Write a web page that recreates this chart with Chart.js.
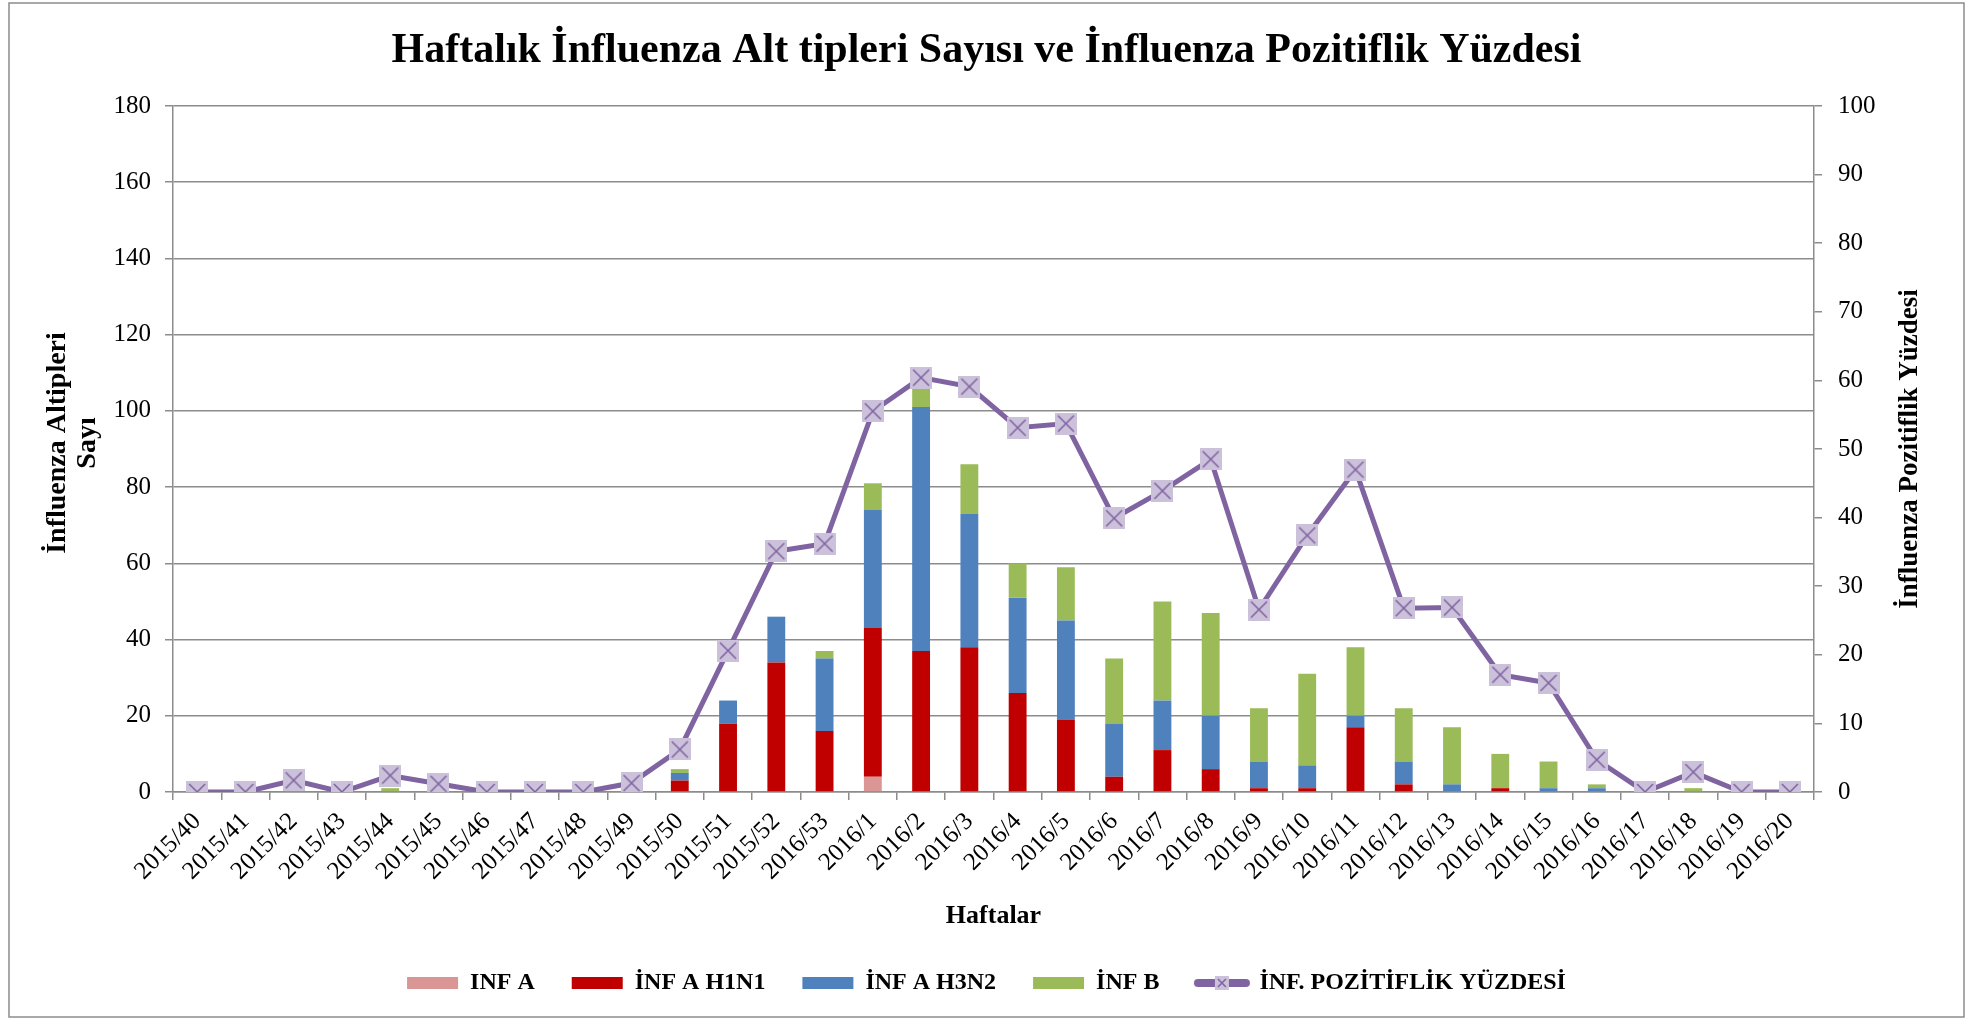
<!DOCTYPE html>
<html lang="tr">
<head>
  <meta charset="UTF-8">
  <title>Haftalık İnfluenza Alt tipleri Sayısı ve İnfluenza Pozitiflik Yüzdesi</title>
  <script src="https://cdn.jsdelivr.net/npm/chart.js"></script>
  <style>
    body {
      margin: 0;
      background: #ffffff;
    }
    canvas {
      display: block;
    }
  </style>
</head>
<body>
  <canvas id="fluChart" width="1973" height="1020"></canvas>

  <script>
    const weeks = [
      '2015/40', '2015/41', '2015/42', '2015/43', '2015/44', '2015/45', '2015/46',
      '2015/47', '2015/48', '2015/49', '2015/50', '2015/51', '2015/52', '2016/53',
      '2016/1', '2016/2', '2016/3', '2016/4', '2016/5', '2016/6', '2016/7',
      '2016/8', '2016/9', '2016/10', '2016/11', '2016/12', '2016/13', '2016/14',
      '2016/15', '2016/16', '2016/17', '2016/18', '2016/19', '2016/20'
    ];

    const infA     = [0, 0, 0, 0, 0, 0, 0, 0, 0, 0, 0, 0, 0, 0, 4, 0, 0, 0, 0, 0, 0, 0, 0, 0, 0, 0, 0, 0, 0, 0, 0, 0, 0, 0];
    const infAH1N1 = [0, 0, 0, 0, 0, 0, 0, 0, 0, 0, 3, 18, 34, 16, 39, 37, 38, 26, 19, 4, 11, 6, 1, 1, 17, 2, 0, 1, 0, 0, 0, 0, 0, 0];
    const infAH3N2 = [0, 0, 0, 0, 0, 0, 0, 0, 0, 0, 2, 6, 12, 19, 31, 64, 35, 25, 26, 14, 13, 14, 7, 6, 3, 6, 2, 0, 1, 1, 0, 0, 0, 0];
    const infB     = [0, 0, 1, 0, 1, 0, 0, 0, 0, 0, 1, 0, 0, 2, 7, 5, 13, 9, 14, 17, 26, 27, 14, 24, 18, 14, 15, 9, 7, 1, 0, 1, 0, 0];
    const pozitiflik = [0, 0, 1.7, 0, 2.4, 1.2, 0, 0, 0, 1.3, 6.2, 20.6, 35.1, 36.2,
      55.5, 60.4, 59.1, 53.1, 53.7, 39.9, 43.9, 48.5, 26.6, 37.4, 47.0, 26.8,
      26.9, 17.1, 15.9, 4.7, 0, 2.9, 0, 0];

    const leftTicks = { min: 0, max: 180, step: 20 };
    const rightTicks = { min: 0, max: 100, step: 10 };

    const serif = '"Liberation Serif", "Times New Roman", serif';
    const gridGray = '#8c8c8c';

    // square marker with a cross, like the Excel one
    function makeMarker(size) {
      const c = document.createElement('canvas');
      c.width = size;
      c.height = size;
      const g = c.getContext('2d');
      g.fillStyle = '#CCC1DA';
      g.fillRect(0, 0, size, size);
      g.strokeStyle = '#8064A2';
      g.lineWidth = 1.6;
      g.beginPath();
      g.moveTo(3, 3); g.lineTo(size - 3, size - 3);
      g.moveTo(size - 3, 3); g.lineTo(3, size - 3);
      g.stroke();
      return c;
    }

    function makeLineIcon() {
      const c = document.createElement('canvas');
      c.width = 58;
      c.height = 20;
      const g = c.getContext('2d');
      g.strokeStyle = '#8064A2';
      g.lineWidth = 8;
      g.lineCap = 'round';
      g.beginPath();
      g.moveTo(5, 10); g.lineTo(53, 10);
      g.stroke();
      g.drawImage(makeMarker(14), 22, 3);
      return c;
    }

    const marker = makeMarker(22);
    const lineIcon = makeLineIcon();

    const frame = {
      id: 'frame',
      beforeDraw(chart) {
        const ctx = chart.ctx;
        ctx.save();
        ctx.fillStyle = '#ffffff';
        ctx.fillRect(0, 0, chart.width, chart.height);
        ctx.strokeStyle = gridGray;
        ctx.lineWidth = 1.5;
        ctx.strokeRect(9, 3, chart.width - 18, chart.height - 6);
        ctx.restore();
      }
    };

    // y axis titles, both read bottom to top
    const axisTitles = {
      id: 'axisTitles',
      afterDraw(chart) {
        const { ctx, chartArea } = chart;
        const mid = (chartArea.top + chartArea.bottom) / 2;
        ctx.save();
        ctx.font = 'bold 27px ' + serif;
        ctx.fillStyle = '#000';
        ctx.textAlign = 'center';
        ctx.textBaseline = 'middle';

        ctx.save();
        ctx.translate(chartArea.left - 115, mid - 6);
        ctx.rotate(-Math.PI / 2);
        ctx.font = 'bold 28px ' + serif;
        ctx.fillText('İnfluenza Altipleri', 0, 0);
        ctx.fillText('Sayı', 0, 30);
        ctx.restore();

        ctx.save();
        ctx.translate(chartArea.right + 96, mid);
        ctx.rotate(-Math.PI / 2);
        ctx.fillText('İnfluenza Pozitiflik Yüzdesi', 0, 0);
        ctx.restore();

        ctx.restore();
      }
    };

    const ctx = document.getElementById('fluChart').getContext('2d');

    new Chart(ctx, {
      type: 'bar',
      data: {
        labels: weeks,
        datasets: [
          { label: 'INF A', data: infA, backgroundColor: '#D99694', order: 1 },
          { label: 'İNF A H1N1', data: infAH1N1, backgroundColor: '#C00000', order: 1 },
          { label: 'İNF A H3N2', data: infAH3N2, backgroundColor: '#4F81BD', order: 1 },
          { label: 'İNF B', data: infB, backgroundColor: '#9BBB59', order: 1 },
          {
            type: 'line',
            label: 'İNF. POZİTİFLİK YÜZDESİ',
            data: pozitiflik,
            yAxisID: 'y1',
            borderColor: '#8064A2',
            backgroundColor: '#8064A2',
            borderWidth: 5,
            pointStyle: marker,
            tension: 0,
            order: 0
          }
        ]
      },
      options: {
        responsive: false,
        animation: false,
        events: [],
        layout: { padding: { top: 0, bottom: 15, left: 0, right: 0 } },
        datasets: {
          bar: { categoryPercentage: 1, barPercentage: 0.37, borderWidth: 0 }
        },
        plugins: {
          title: {
            display: true,
            text: 'Haftalık İnfluenza Alt tipleri Sayısı ve İnfluenza Pozitiflik Yüzdesi',
            color: '#000',
            font: { family: serif, size: 42, weight: 'bold' },
            padding: { top: 26, bottom: 29.6 }
          },
          legend: {
            position: 'bottom',
            labels: {
              usePointStyle: true,
              pointStyleWidth: 51,
              boxHeight: 12,
              padding: 37,
              color: '#000',
              font: { family: serif, size: 24, weight: 'bold' },
              generateLabels(chart) {
                return chart.data.datasets.map((ds, i) => ({
                  text: ds.label,
                  fillStyle: ds.backgroundColor,
                  strokeStyle: ds.backgroundColor,
                  lineWidth: 0,
                  pointStyle: ds.type === 'line' ? lineIcon : 'rect',
                  datasetIndex: i,
                  hidden: false
                }));
              }
            }
          },
          tooltip: { enabled: false }
        },
        scales: {
          x: {
            stacked: true,
            afterFit(scale) { scale.height = 142; },
            grid: { drawOnChartArea: false, drawTicks: true, tickLength: 8, color: gridGray, lineWidth: 1.5 },
            border: { color: gridGray, width: 1.5 },
            ticks: {
              autoSkip: false,
              maxRotation: 45,
              minRotation: 45,
              padding: 7,
              color: '#000',
              font: { family: serif, size: 25 }
            },
            title: {
              display: true,
              text: 'Haftalar',
              color: '#000',
              font: { family: serif, size: 26, weight: 'bold' },
              padding: { top: 0, bottom: 2 }
            }
          },
          y: {
            stacked: true,
            min: leftTicks.min,
            max: leftTicks.max,
            afterFit(scale) { scale.width = 173; },
            grid: { color: gridGray, lineWidth: 1.5, tickLength: 8 },
            border: { color: gridGray, width: 1.5 },
            ticks: {
              stepSize: leftTicks.step,
              padding: 14,
              color: '#000',
              font: { family: serif, size: 25 }
            }
          },
          y1: {
            position: 'right',
            min: rightTicks.min,
            max: rightTicks.max,
            afterFit(scale) { scale.width = 159; },
            grid: { drawOnChartArea: false, color: gridGray, lineWidth: 1.5, tickLength: 8 },
            border: { color: gridGray, width: 1.5 },
            ticks: {
              stepSize: rightTicks.step,
              padding: 16,
              color: '#000',
              font: { family: serif, size: 25 }
            }
          }
        }
      },
      plugins: [frame, axisTitles]
    });
  </script>
</body>
</html>
